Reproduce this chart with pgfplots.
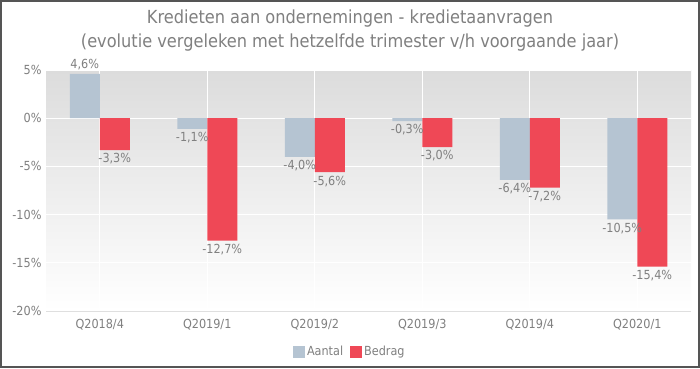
\documentclass[border=0pt]{standalone}
\usepackage{pgfplots}
\pgfplotsset{compat=1.18}
\usepackage{fontspec}
\setmainfont{DejaVu Sans Condensed}
\definecolor{aantal}{RGB}{181,196,210}
\definecolor{bedrag}{RGB}{239,72,86}
\definecolor{txt}{RGB}{128,128,128}
\definecolor{framec}{RGB}{85,85,85}
\definecolor{bgtop}{RGB}{220,220,220}
\begin{document}
\begin{tikzpicture}[x=1pt,y=1pt]
\useasboundingbox (0,0) rectangle (700,368);
\fill[white] (0,0) rectangle (700,368);
\begin{axis}[
  at={(46pt,57pt)}, anchor=south west,
  scale only axis, width=645pt, height=241pt,
  xmin=-0.5, xmax=5.5, ymin=-20, ymax=5,
  ybar=0pt, bar width=30pt,
  xtick={0,1,2,3,4,5},
  xticklabels={Q2018/4,Q2019/1,Q2019/2,Q2019/3,Q2019/4,Q2020/1},
  ytick={-20,-15,-10,-5,0,5},
  yticklabels={-20\%,-15\%,-10\%,-5\%,0\%,5\%},
  axis line style={draw=none},
  major tick length=0pt,
  xmajorgrids, ymajorgrids,
  grid style={white, line width=1pt},
  axis background/.style={top color=bgtop, bottom color=white},
  ticklabel style={font=\fontsize{12.5}{14}\selectfont, text=txt},
  xticklabel style={yshift=-5pt},
  yticklabel style={xshift=-1pt},
  point meta=y,
  nodes near coords={\pgfmathprintnumber[use comma, fixed, fixed zerofill, precision=1, assume math mode=true]{\pgfplotspointmeta}\%},
  nodes near coords align={vertical},
  every node near coord/.append style={font=\fontsize{12.5}{14}\selectfont, text=txt},
  legend columns=2,
  legend image code/.code={\fill[#1] (0pt,-6pt) rectangle (12pt,6pt);},
  legend style={draw=none, fill=none, at={(axis description cs:0.471,-0.17)}, anchor=center,
    font=\fontsize{12.5}{14}\selectfont, text=txt,
    /tikz/every even column/.append style={column sep=5pt}},
]
\draw[gray!25, line width=1pt] (axis cs:-0.5,-20) -- (axis cs:5.5,-20);
\addplot[fill=aantal, draw=none] coordinates {
  (0,4.6) (1,-1.1) (2,-4.0) (3,-0.3) (4,-6.4) (5,-10.5)
};
\addplot[fill=bedrag, draw=none] coordinates {
  (0,-3.3) (1,-12.7) (2,-5.6) (3,-3.0) (4,-7.2) (5,-15.4)
};
\legend{Aantal,Bedrag}
\end{axis}
\node[text=txt, font=\fontsize{18}{20}\selectfont] at (350,349) {Kredieten aan ondernemingen - kredietaanvragen};
\node[text=txt, font=\fontsize{18}{20}\selectfont] at (350,325) {(evolutie vergeleken met hetzelfde trimester v/h voorgaande jaar)};
\draw[framec, line width=2pt] (1,1) rectangle (699,367);
\end{tikzpicture}
\end{document}
